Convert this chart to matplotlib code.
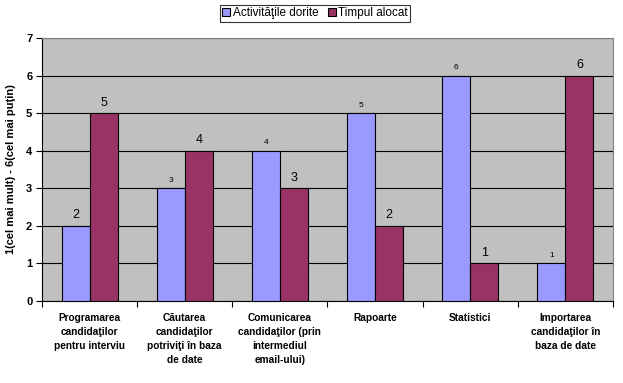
import matplotlib
matplotlib.use("Agg")
import matplotlib.pyplot as plt
import numpy as np

categories = ["Programarea\ncandidaţilor\npentru interviu",
              "Căutarea\ncandidaţilor\npotriviţi în baza\nde date",
              "Comunicarea\ncandidaţilor (prin\nintermediul\nemail-ului)",
              "Rapoarte",
              "Statistici",
              "Importarea\ncandidaţilor în\nbaza de date"]
activitati = [2, 3, 4, 5, 6, 1]
timpul = [5, 4, 3, 2, 1, 6]
series_names = ["Activităţile dorite", "Timpul alocat"]
yticks = [0, 1, 2, 3, 4, 5, 6, 7]
ylabel = "1(cel mai mult) - 6(cel mai puţin)"

plt.rcParams['font.family'] = ['Liberation Sans', 'DejaVu Sans']

fig = plt.figure(figsize=(6.23, 3.83), dpi=100)
ax = fig.add_axes([42/623, 1-301/383, (613-42)/623, (301-38)/383])
ax.set_facecolor('#C0C0C0')

x = np.arange(len(categories))
w = 0.295
b1 = ax.bar(x - w/2, activitati, w, color='#9999FF', edgecolor='black', linewidth=0.8, label=series_names[0], zorder=3)
b2 = ax.bar(x + w/2, timpul, w, color='#993366', edgecolor='black', linewidth=0.8, label=series_names[1], zorder=3)

for i, (r, v) in enumerate(zip(b1, activitati)):
    fs = 9 if i == 0 else 6
    ax.text(r.get_x() + r.get_width()/2, v + 0.12, str(v), ha='center', va='bottom', fontsize=fs, zorder=4)
for r, v in zip(b2, timpul):
    ax.text(r.get_x() + r.get_width()/2, v + 0.12, str(v), ha='center', va='bottom', fontsize=9, zorder=4)

ax.set_xlim(-0.5, len(categories) - 0.5)
ax.set_ylim(0, 7)
ax.set_yticks(yticks)
ax.set_yticklabels([str(t) for t in yticks], fontsize=8, fontweight='bold')
ax.yaxis.grid(True, color='black', linewidth=0.8, zorder=0)
ax.set_axisbelow(True)

ax.set_xticks(np.arange(len(categories) + 1) - 0.5)
ax.set_xticklabels([])
ax.tick_params(axis='x', length=4, direction='out', width=0.8)
ax.tick_params(axis='y', length=4, direction='out', width=0.8, pad=3)
for i, c in enumerate(categories):
    ax.text(i, -0.33, c, ha='center', va='top', fontsize=7.3, fontweight='bold',
            transform=ax.transData, linespacing=1.5)

for s in ['top', 'right']:
    ax.spines[s].set_color('#808080')
    ax.spines[s].set_linewidth(0.8)
for s in ['left', 'bottom']:
    ax.spines[s].set_color('black')
    ax.spines[s].set_linewidth(0.8)

ax.set_ylabel(ylabel, fontsize=8, fontweight='bold', labelpad=7)

leg = fig.legend(loc='upper center', bbox_to_anchor=(315/623, 1 - 5/383), ncol=2, fontsize=8.5,
                 frameon=True, fancybox=False, edgecolor='black', handlelength=0.7, handleheight=0.7,
                 handletextpad=0.2, columnspacing=0.8, borderpad=0.2, borderaxespad=0)
leg.get_frame().set_linewidth(0.8)

fig.savefig("out.png", dpi=100)
